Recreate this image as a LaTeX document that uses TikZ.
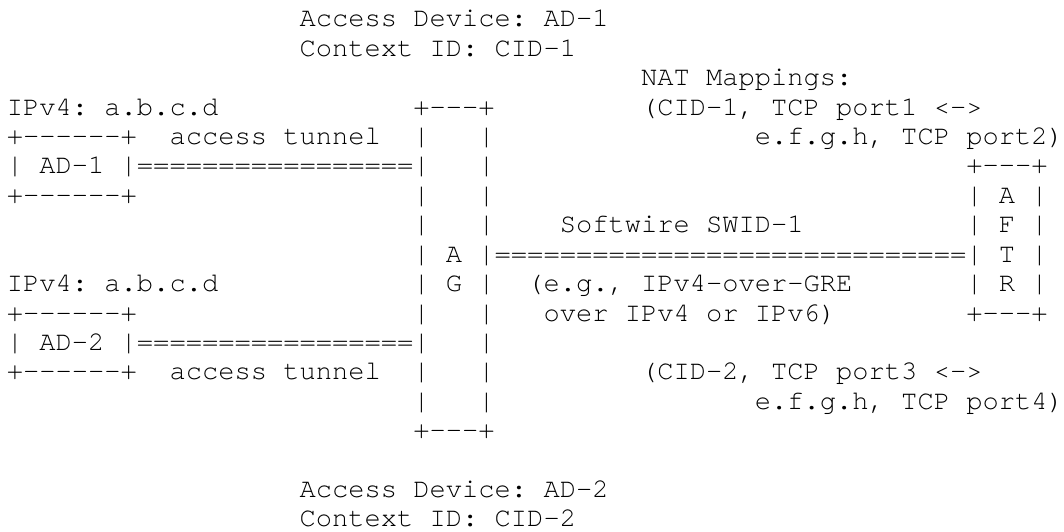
\documentclass[tikz,border=0pt]{standalone}
\usepackage{fontspec}
\setmonofont{TeX Gyre Cursor}
\usepackage{tikz}
\tikzset{txt/.style = {anchor=base west, inner sep=0pt, outer sep=0pt,
    font=\ttfamily\fontsize{27.1pt}{29.4pt}\selectfont\frenchspacing}}

\begin{document}
\begin{tikzpicture}[x=16.26pt, y=-29.4pt]
    \useasboundingbox (-0.424,-0.918) rectangle (65.01,17.143);

    % access devices, top
    \node[txt] (ad1dev) at (18,0) {Access Device: AD-1};
    \node[txt] (ad1cid) at (18,1) {Context ID: CID-1};

    % NAT mappings
    \node[txt] (nat) at (39,2) {NAT Mappings:};
    \node[txt] (map1) at (39,3) {(CID-1, TCP port1 <->};
    \node[txt] (map1b) at (46,4) {e.f.g.h, TCP port2)};
    \node[txt] (map2) at (39,12) {(CID-2, TCP port3 <->};
    \node[txt] (map2b) at (46,13) {e.f.g.h, TCP port4)};

    % AD-1
    \node[txt] (ip1) at (0,3) {IPv4: a.b.c.d};
    \node[txt] (ad1top) at (0,4) {+------+};
    \node[txt] (tun1) at (10,4) {access tunnel};
    \node[txt] (ad1) at (0,5) {| AD-1 |};
    \node[txt] (eq1) at (8,5) {=================};
    \node[txt] (ad1bot) at (0,6) {+------+};

    % AD-2
    \node[txt] (ip2) at (0,9) {IPv4: a.b.c.d};
    \node[txt] (ad2top) at (0,10) {+------+};
    \node[txt] (ad2) at (0,11) {| AD-2 |};
    \node[txt] (eq2) at (8,11) {=================};
    \node[txt] (ad2bot) at (0,12) {+------+};
    \node[txt] (tun2) at (10,12) {access tunnel};

    % AG
    \node[txt] (agtop) at (25,3) {+---+};
    \foreach \r/\ch in {4/~,5/~,6/~,7/~,8/A,9/G,10/~,11/~,12/~,13/~}
        \node[txt] (ag\r) at (25,\r) {|~\ch~|};
    \node[txt] (agbot) at (25,14) {+---+};

    % softwire
    \node[txt] (sw) at (34,7) {Softwire SWID-1};
    \node[txt] (eqsw) at (30,8) {=============================};
    \node[txt] (gre) at (32,9) {(e.g., IPv4-over-GRE};
    \node[txt] (over) at (33,10) {over IPv4 or IPv6)};

    % AFTR
    \node[txt] (aftrtop) at (59,5) {+---+};
    \foreach \ch [count=\r from 6] in {A,F,T,R}
        \node[txt] (aftr\r) at (59,\r) {|~\ch~|};
    \node[txt] (aftrbot) at (59,10) {+---+};

    % access devices, bottom
    \node[txt] (ad2dev) at (18,16) {Access Device: AD-2};
    \node[txt] (ad2cid) at (18,17) {Context ID: CID-2};

\end{tikzpicture}
\end{document}
